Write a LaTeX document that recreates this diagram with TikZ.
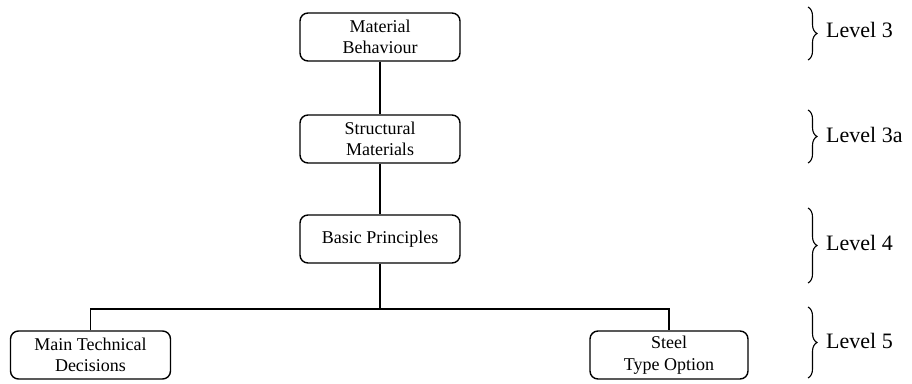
\documentclass[tikz,border=0pt]{standalone}
\usepackage{fontspec}
\setmainfont{Liberation Serif}
\usetikzlibrary{decorations.pathreplacing}
\tikzset{
  box/.style={draw, line width=1.4pt, rounded corners=8pt, minimum width=160pt, minimum height=48pt,
    align=center, inner sep=0pt, font=\fontsize{18}{21.5}\selectfont},
  conn/.style={line width=1.4pt},
  lvbrace/.style={decorate, decoration={brace, amplitude=9pt}, line width=1.1pt},
  lvtext/.style={anchor=west, inner sep=0pt, font=\fontsize{22}{26}\selectfont}
}
\begin{document}
\begin{tikzpicture}[x=1pt, y=-1pt]
\useasboundingbox (0,0) rectangle (912,383);
\node[box] (mb) at (380,37) {Material\\Behaviour};
\node[box] (sm) at (380,139) {Structural\\Materials};
\node[box] (bp) at (380,239) {Basic Principles};
\node[box] (mt) at (90.5,355) {Main Technical\\Decisions};
\node[box, minimum width=158pt] (st) at (669,355) {Steel\\Type Option};
\coordinate (split) at (380,309);
\draw[conn] (mb) -- (sm);
\draw[conn] (sm) -- (bp);
\draw[conn] (bp) -- (split);
\draw[conn] (mt.north) |- (split) -| (st.north);
% braces
\coordinate (b3t) at (808,7);   \coordinate (b3b) at (808,60);
\coordinate (b3at) at (808,110); \coordinate (b3ab) at (808,163);
\coordinate (b4t) at (808,208); \coordinate (b4b) at (808,283);
\coordinate (b5t) at (808,307); \coordinate (b5b) at (808,378);
\draw[lvbrace] (b3t) -- (b3b);
\draw[lvbrace] (b3at) -- (b3ab);
\draw[lvbrace] (b4t) -- (b4b);
\draw[lvbrace] (b5t) -- (b5b);
\node[lvtext] (l3) at (826,30) {Level 3};
\node[lvtext] (l3a) at (826,135) {Level 3a};
\node[lvtext] (l4) at (826,243) {Level 4};
\node[lvtext] (l5) at (826,341) {Level 5};
\end{tikzpicture}
\end{document}
